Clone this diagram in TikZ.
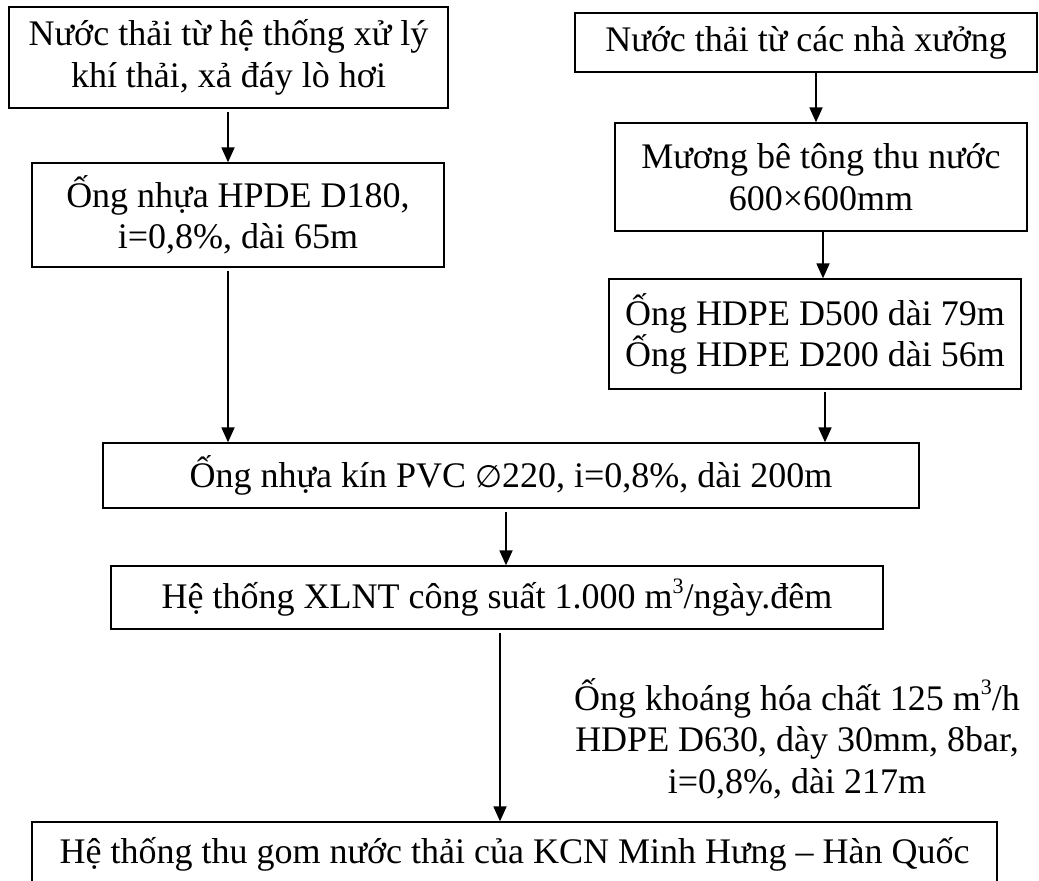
\documentclass[tikz,border=0pt]{standalone}
\usepackage{fontspec}
\setmainfont{Liberation Serif}
\newfontfamily\dejavusans{DejaVu Sans}
\usetikzlibrary{arrows.meta}
\newcommand{\cubic}{\raisebox{0.42em}{\fontsize{22}{22}\selectfont 3}}
\begin{document}
\begin{tikzpicture}[x=1pt,y=-1pt,
  box/.style={draw, line width=1.3pt, rectangle, inner sep=0pt, align=center,
    font=\fontsize{36}{41.5}\selectfont},
  flow/.style={line width=1.8pt, -{Triangle[length=15pt,width=13pt]}},
  note/.style={inner sep=0pt, font=\fontsize{36}{41.5}\selectfont}]
\useasboundingbox (0,0) rectangle (1039,881);
\clip (0,0) rectangle (1039,881);
\fill[white] (0,0) rectangle (1039,881);

% sources
\node[box, minimum width=439pt, minimum height=101pt] (src1) at (228.5,57.5)
  {Nước thải từ hệ thống xử lý\\khí thải, xả đáy lò hơi};
\node[box, minimum width=462pt, minimum height=59pt] (src2) at (806,42.5)
  {Nước thải từ các nhà xưởng};

% conveyance
\node[box, minimum width=412pt, minimum height=104pt] (pipe1) at (238,215)
  {Ống nhựa HPDE D180,\\i=0,8\%, dài 65m};
\node[box, minimum width=412pt, minimum height=108pt] (ditch) at (821,177)
  {Mương bê tông thu nước\\600×600mm};
\node[box, minimum width=412pt, minimum height=110pt] (pipe2) at (815,334)
  {Ống HDPE D500 dài 79m\\Ống HDPE D200 dài 56m};
\node[box, minimum width=816pt, minimum height=65pt] (pvc) at (511,475.5)
  {Ống nhựa kín PVC {\dejavusans\fontsize{31}{31}\selectfont ∅}220, i=0,8\%, dài 200m};

% treatment and discharge
\node[box, minimum width=772pt, minimum height=63pt] (wwtp) at (497,597.5)
  {Hệ thống XLNT công suất 1.000 m\cubic/ngày.đêm};
\node[box, minimum width=965pt, minimum height=64pt] (kcn) at (514.5,854)
  {Hệ thống thu gom nước thải của KCN Minh Hưng – Hàn Quốc};

\node[note, anchor=base] (pipe3) at (797,710)
  {\begin{tabular}[t]{@{}c@{}}Ống khoáng hóa chất 125 m\cubic/h\\
   HDPE D630, dày 30mm, 8bar,\\ i=0,8\%, dài 217m\end{tabular}};

% arrow columns
\coordinate (xa) at (228,0);
\coordinate (xb) at (816,0);
\coordinate (xc) at (823,0);
\coordinate (xd) at (825,0);
\coordinate (xe) at (506,0);
\coordinate (xf) at (500,0);

\draw[flow, shorten <=3pt] (xa |- src1.south) -- (xa |- pipe1.north);
\draw[flow, shorten <=3pt] (xa |- pipe1.south) -- (xa |- pvc.north);
\draw[flow] (xb |- src2.south) -- (xb |- ditch.north);
\draw[flow] (xc |- ditch.south) -- (xc |- pipe2.north);
\draw[flow, shorten <=2pt] (xd |- pipe2.south) -- (xd |- pvc.north);
\draw[flow, shorten <=3pt] (xe |- pvc.south) -- (xe |- wwtp.north);
\draw[flow, shorten <=3pt] (xf |- wwtp.south) -- (xf |- kcn.north);
\end{tikzpicture}
\end{document}
